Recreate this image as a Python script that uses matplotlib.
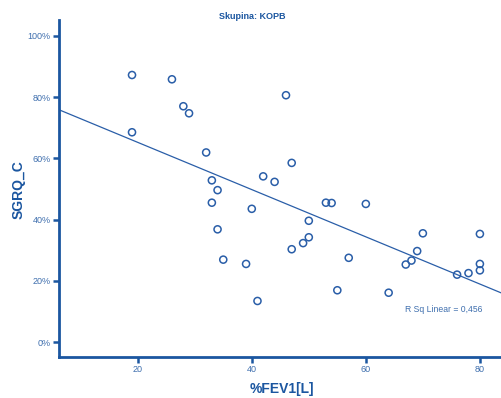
import numpy as np
import matplotlib
matplotlib.use("Agg")
import matplotlib.pyplot as plt
from matplotlib.ticker import FuncFormatter

plt.rcParams['font.family'] = ['Liberation Sans', 'DejaVu Sans']

# %FEV1 a SGRQ_C (v %) pro skupinu KOPB
fev1 = [19, 26, 28, 29, 19, 32, 47, 33, 42, 44, 34, 33, 40, 50, 34, 50, 49, 47, 35,
        39, 41, 46, 53, 54, 60, 57, 55, 64, 70, 80, 69, 68, 67, 80, 80, 78, 76]
sgrq = [87.2, 85.8, 77.0, 74.7, 68.5, 61.9, 58.5, 52.8, 54.1, 52.3, 49.6, 45.5, 43.5,
        39.6, 36.8, 34.2, 32.3, 30.3, 26.9, 25.5, 13.4, 80.6, 45.5, 45.4, 45.1, 27.5,
        16.9, 16.1, 35.5, 35.3, 29.7, 26.6, 25.3, 25.5, 23.4, 22.5, 22.0]
y_ticks = [0, 20, 40, 60, 80, 100]
x_ticks = [20, 40, 60, 80]
r2_text = "R Sq Linear = 0,456"

c_axis = '#1b56a0'
c_text = '#3f6fae'
c_mark = '#2a5ea8'

W, H = 501, 398
fig = plt.figure(figsize=(W / 100, H / 100), dpi=100)
ax = fig.add_axes([0.1178, 0.103, 0.8822, 0.847])

x = np.array(fev1, dtype=float)
y = np.array(sgrq, dtype=float)
ax.scatter(x, y, s=26, facecolors='none', edgecolors=c_mark, linewidths=1.1, zorder=3)

# lineární regrese přes celý rozsah osy
xlim = (6.2, 83.7)
k, q = np.polyfit(x, y, 1)
xx = np.array(xlim)
ax.plot(xx, k * xx + q, color=c_mark, lw=0.9, zorder=2)

ax.set_xlim(*xlim)
ax.set_ylim(-4.9, 105.2)
ax.set_xticks(x_ticks)
ax.set_yticks(y_ticks)
ax.yaxis.set_major_formatter(FuncFormatter(lambda v, p: '%d%%' % v))

for s in ['top', 'right']:
    ax.spines[s].set_visible(False)
for s in ['left', 'bottom']:
    ax.spines[s].set_color(c_axis)
    ax.spines[s].set_linewidth(2.0)
ax.tick_params(direction='out', length=4, width=1.8, color=c_axis,
               labelcolor=c_text, labelsize=6.5, pad=2)

# popisky os
fig.text(281.5 / W, 1 - 389 / H, '%FEV1[L]', ha='center', va='center',
         fontsize=10, fontweight='bold', color=c_axis)
fig.text(19 / W, 1 - 189.5 / H, 'SGRQ_C', ha='center', va='center', rotation=90,
         fontsize=10, fontweight='bold', color=c_axis)

fig.text(0.503, 0.958, 'Skupina: KOPB', ha='center', va='center',
         fontsize=6.5, fontweight='bold', color=c_axis)
fig.text(444 / W, 1 - 309.5 / H, r2_text, ha='center', va='center',
         fontsize=6.2, color=c_text)

fig.savefig('out.png', dpi=100)
